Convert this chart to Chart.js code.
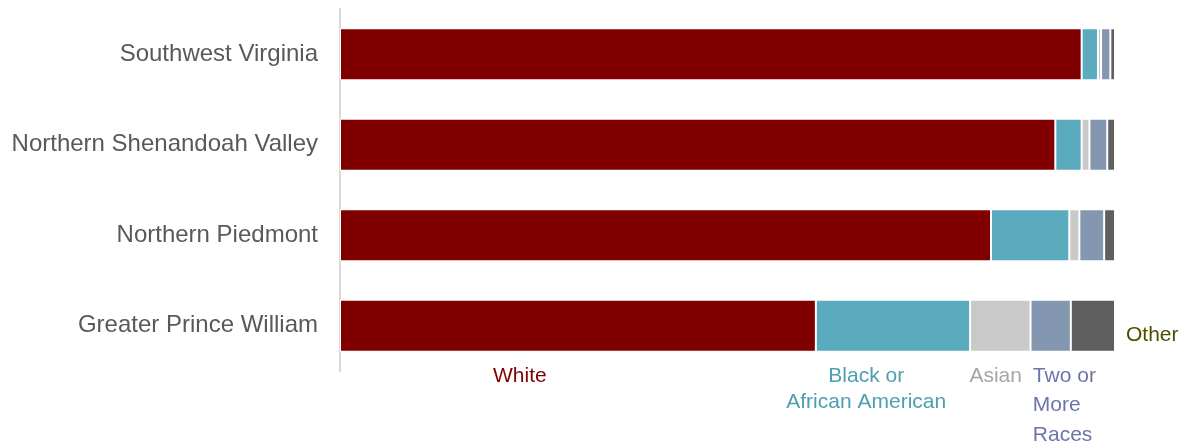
<!DOCTYPE html>
<html>
<head>
<meta charset="utf-8">
<script src="https://cdn.jsdelivr.net/npm/chart.js@4.4.1/dist/chart.umd.min.js"></script>
<style>
    html, body { margin: 0; padding: 0; background: #fff; }
    #wrap { width: 1187px; height: 447px; }
</style>
</head>
<body>
<div id="wrap"><canvas id="raceChart"></canvas></div>
<script>
// data (share of population, %)
const regions = ["Southwest Virginia", "Northern Shenandoah Valley", "Northern Piedmont", "Greater Prince William"];
const white = [95.7, 92.3, 84.0, 61.4];
const black = [2.1, 3.4, 10.1, 19.9];
const asian = [0.4, 1.0, 1.3, 7.8];
const twoOrMore = [1.2, 2.3, 3.2, 5.2];
const other = [0.6, 1.0, 1.4, 5.7];

// series labels drawn under / beside the last bar
const seriesLabels = [
    { lines: ["White"], color: "#800000", at: 23.2, align: "center" },
    { lines: ["Black or", "African American"], color: "#4c9fb2", at: 67.9, align: "center", gap: 26.5 },
    { lines: ["Asian"], color: "#a6a6a6", at: 84.6, align: "center" },
    { lines: ["Two or", "More", "Races"], color: "#6d74a9", at: 89.4, align: "left", gap: 29.5 },
];

const labelFont = "21px 'Liberation Sans', Arial, sans-serif";

const seriesLabelPlugin = {
    id: "seriesLabels",
    afterDatasetsDraw(chart) {
        const ctx = chart.ctx;
        const xs = chart.scales.x;
        const bar = chart.getDatasetMeta(0).data[regions.length - 1];
        const bottom = bar.y + bar.height / 2;
        ctx.save();
        ctx.font = labelFont;
        ctx.textBaseline = "alphabetic";
        seriesLabels.forEach((l) => {
            ctx.fillStyle = l.color;
            ctx.textAlign = l.align;
            l.lines.forEach((t, i) => {
                ctx.fillText(t, xs.getPixelForValue(l.at), bottom + 30 + i * (l.gap || 0));
            });
        });
        // "Other" sits to the right of the bar
        ctx.fillStyle = "#4f4f00";
        ctx.textAlign = "left";
        ctx.fillText("Other", xs.getPixelForValue(100) + 11, bar.y + 15);
        ctx.restore();
    },
};

const seg = (label, data, color) => ({
    label: label,
    data: data,
    backgroundColor: color,
    borderColor: "#ffffff",
    borderWidth: 1,
    borderSkipped: false,
    barPercentage: 0.575,
    categoryPercentage: 1,
});

new Chart(document.getElementById("raceChart"), {
    type: "bar",
    data: {
        labels: regions,
        datasets: [
            seg("White", white, "#800000"),
            seg("Black or African American", black, "#5aabbe"),
            seg("Asian", asian, "#c9c9c9"),
            seg("Two or More Races", twoOrMore, "#8497b0"),
            seg("Other", other, "#5f5f5f"),
        ],
    },
    options: {
        indexAxis: "y",
        responsive: true,
        maintainAspectRatio: false,
        animation: false,
        layout: {
            padding: { top: 9, right: 72, bottom: 76, left: 0 },
        },
        plugins: {
            legend: { display: false },
            tooltip: { enabled: false },
        },
        scales: {
            x: {
                display: false,
                stacked: true,
                min: 0,
                max: 100,
            },
            y: {
                stacked: true,
                grid: { display: false, drawTicks: false },
                border: { display: true, color: "#d9d9d9", width: 2 },
                ticks: {
                    padding: 22,
                    color: "#595959",
                    font: { family: "'Liberation Sans', Arial, sans-serif", size: 24 },
                },
                afterFit(scale) {
                    scale.width = 340;
                    scale.paddingTop = 0;
                    scale.paddingBottom = 0;
                },
            },
        },
    },
    plugins: [seriesLabelPlugin],
});
</script>
</body>
</html>
